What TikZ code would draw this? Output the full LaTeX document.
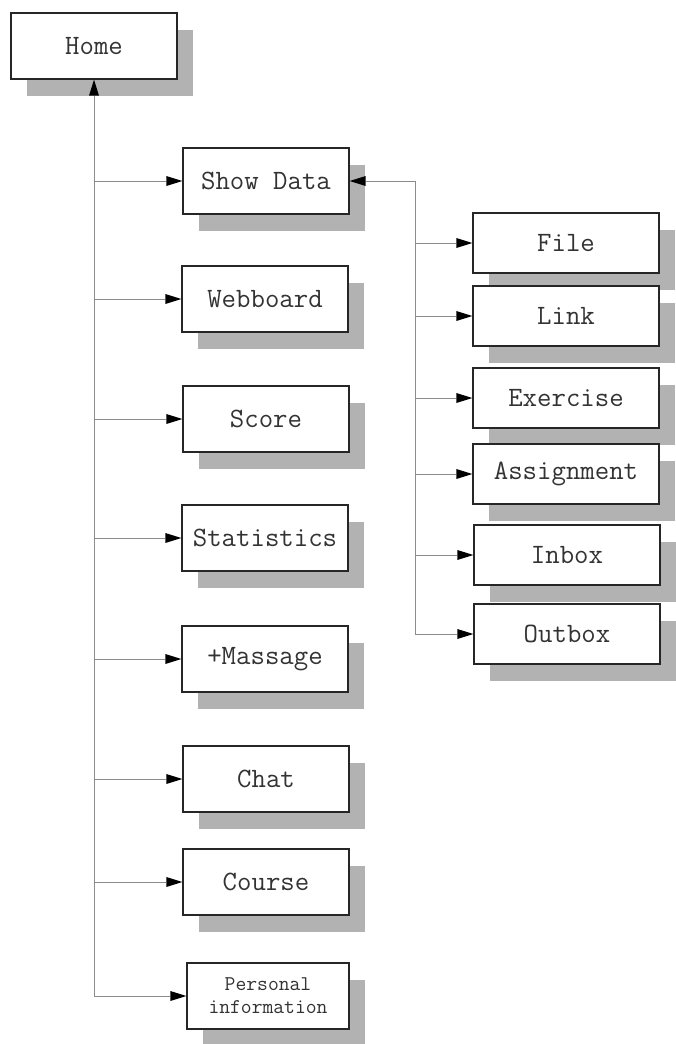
\documentclass[tikz,border=0pt]{standalone}
\usetikzlibrary{arrows.meta,shadows}
\begin{document}
\begin{tikzpicture}[x=1pt,y=-1pt,
  box/.style={draw=black!85, line width=1.3pt, fill=white, inner sep=0pt,
    font=\ttfamily\fontsize{28}{30}\selectfont, text=black!80,
    drop shadow={shadow xshift=16pt, shadow yshift=-17pt, fill=black!30, opacity=1}},
  lbox/.style={box, minimum width=166pt, minimum height=66pt},
  rbox/.style={box, minimum width=186pt, minimum height=60pt},
  link/.style={draw=black!45, line width=0.6pt},
  arr/.style={link, -{Triangle[length=16pt,width=10pt,fill=black,line width=0pt]}}]
\useasboundingbox (0,0) rectangle (676,1044);
\begin{scope}
\clip (0,0) rectangle (676,1044);
% top node
\node[lbox] (home) at (94,46) {Home};
% main menu
\node[lbox] (show)  at (266,181) {Show Data};
\node[lbox] (web)   at (265,299) {Webboard};
\node[lbox] (score) at (266,419) {Score};
\node[lbox] (stat)  at (265,538) {Statistics};
\node[lbox] (msg)   at (265,659) {+Massage};
\node[lbox] (chat)  at (266,779) {Chat};
\node[lbox] (course) at (266,882) {Course};
\node[lbox, minimum width=162pt, align=center,
      font=\ttfamily\fontsize{21}{23}\selectfont] (pers) at (268,996)
      {Personal\\information};
% data submenu
\node[rbox] (file)   at (566,243) {File};
\node[rbox] (lnk)    at (566,316) {Link};
\node[rbox] (exer)   at (566,398) {Exercise};
\node[rbox] (assign) at (566,474) {Assignment};
\node[rbox] (inbox)  at (567,555) {Inbox};
\node[rbox] (outbox) at (567,634) {Outbox};
\end{scope}
% left trunk
\draw[arr] (pers.west -| home.south) -- (home.south);
\foreach \n in {show,web,score,stat,msg,chat,course,pers}
  \draw[arr] (\n.west -| home.south) -- (\n.west);
% right trunk
\coordinate (rt) at (415,181);
\draw[arr] (rt) -- (show.east);
\draw[link] (rt) -- (rt |- outbox.west);
\foreach \n in {file,lnk,exer,assign,inbox,outbox}
  \draw[arr] (\n.west -| rt) -- (\n.west);
\end{tikzpicture}
\end{document}
